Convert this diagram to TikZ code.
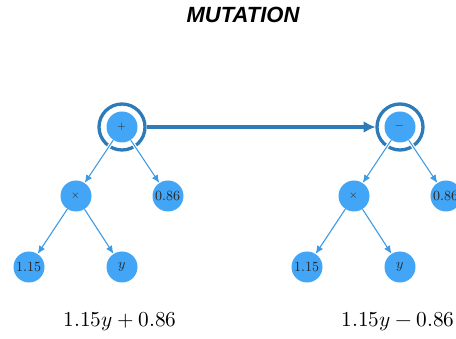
\documentclass[tikz,border=0pt]{standalone}
\usepackage{fontspec}
\usepackage{unicode-math}
\setmathfont{Latin Modern Math}
\newfontfamily\titlefont{Liberation Sans}
\usetikzlibrary{arrows.meta}

\definecolor{nodeblue}{HTML}{42A5F5}
\definecolor{edgeblue}{HTML}{3D9BE6}
\definecolor{ringblue}{HTML}{2E7BB9}

\tikzset{
  tnode/.style={circle, fill=nodeblue, minimum size=31pt, inner sep=0pt,
    text=black!85, font=\fontsize{14}{16}\selectfont},
  opnode/.style={tnode, font=\fontsize{11}{13}\selectfont},
  ring/.style={draw=ringblue, line width=3.3pt},
  edge/.style={edgeblue, line width=1.1pt,
    -{Latex[length=8pt,width=7pt]},
    preaction={draw=white, line width=3.4pt, -}},
  mutarrow/.style={ringblue, line width=3.2pt,
    -{Latex[length=12pt,width=12pt]}},
  formula/.style={anchor=base, font=\fontsize{21.3}{25}\selectfont},
  title/.style={font=\titlefont\bfseries\itshape\fontsize{22}{26}\selectfont}
}

\begin{document}
\begin{tikzpicture}[x=1pt, y=-1pt]
  \useasboundingbox (0,0) rectangle (456,339);

  \node[title] (title) at (243,15) {MUTATION};

  % original tree
  \node[opnode] (lroot) at (122,127) {$+$};
  \node[opnode] (ltimes) at (76,196) {$\times$};
  \node[tnode] (lconst) at (168,196) {$0.86$};
  \node[tnode] (lcoef) at (29,267) {$1.15$};
  \node[tnode] (lvar) at (122,267) {$y$};
  \draw[ring] (lroot.center) circle (23pt);
  \coordinate (lring) at (146.5,127);

  % mutated tree
  \node[opnode] (rroot) at (400,127) {$-$};
  \node[opnode] (rtimes) at (354,196) {$\times$};
  \node[tnode] (rconst) at (446,196) {$0.86$};
  \node[tnode] (rcoef) at (307,267) {$1.15$};
  \node[tnode] (rvar) at (400,267) {$y$};
  \draw[ring] (rroot.center) circle (23pt);
  \coordinate (rring) at (375.5,127);

  % tree edges
  \draw[edge] (lroot) -- (ltimes);
  \draw[edge] (lroot) -- (lconst);
  \draw[edge] (ltimes) -- (lcoef);
  \draw[edge] (ltimes) -- (lvar);
  \draw[edge] (rroot) -- (rtimes);
  \draw[edge] (rroot) -- (rconst);
  \draw[edge] (rtimes) -- (rcoef);
  \draw[edge] (rtimes) -- (rvar);

  % mutation step
  \draw[mutarrow] (lring) -- (rring);

  % expressions
  \node[formula] (lexpr) at (120,327) {$1.15y + 0.86$};
  \node[formula] (rexpr) at (398,327) {$1.15y - 0.86$};
\end{tikzpicture}
\end{document}
